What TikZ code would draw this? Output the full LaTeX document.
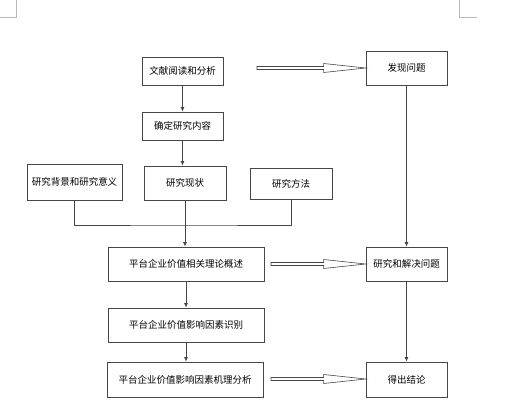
\documentclass[tikz,border=0pt]{standalone}
\usepackage{fontspec}
\setmainfont{Noto Sans CJK SC}
\usepackage{tikz}
\usetikzlibrary{arrows.meta,calc}
\definecolor{boxline}{RGB}{70,70,70}
\definecolor{markgray}{RGB}{185,185,185}

\tikzset{
  box/.style={draw=boxline, line width=0.7pt, fill=white, inner sep=0pt,
    font=\fontsize{9.5}{11}\selectfont},
  flow/.style={draw=boxline, line width=0.7pt, -{Latex[length=4.5pt,width=4pt]}},
  link/.style={draw=boxline, line width=0.7pt},
  hollow/.style={draw=boxline, line width=0.6pt, fill=white}
}

\newcommand{\hollowarrow}[2]{%
  \path[hollow] let \p1=(#1), \p2=(#2) in
    (\x1,\y1-1.5pt) -- (\x2-42pt,\y1-1.5pt) -- (\x2-42pt,\y1-4.5pt) -- (\x2,\y1)
    -- (\x2-42pt,\y1+4.5pt) -- (\x2-42pt,\y1+1.5pt) -- (\x1,\y1+1.5pt) -- cycle;}

\begin{document}
\begin{tikzpicture}[x=1pt, y=-1pt]
  \useasboundingbox (0,0) rectangle (512,406);

  % Page corner marks
  \draw[markgray, line width=0.6pt] (16,0) -- (16,17) -- (0,17);
  \draw[markgray, line width=0.6pt] (459,0) -- (459,17) -- (477,17);

  % Nodes
  \node[box, minimum width=81pt, minimum height=28pt] (lit) at (182.5,71) {文献阅读和分析};
  \node[box, minimum width=81pt, minimum height=34pt] (find) at (406.5,68) {发现问题};
  \node[box, minimum width=81pt, minimum height=28pt] (content) at (182.5,126) {确定研究内容};
  \node[box, minimum width=95pt, minimum height=36pt] (bg) at (74.5,182) {研究背景和研究意义};
  \node[box, minimum width=82pt, minimum height=34pt] (status) at (185,183) {研究现状};
  \node[box, minimum width=82pt, minimum height=31pt] (method) at (291,183.5) {研究方法};
  \node[box, minimum width=156pt, minimum height=34pt] (theory) at (186,264) {平台企业价值相关理论概述};
  \node[box, minimum width=81pt, minimum height=34pt] (solve) at (406.5,264) {研究和解决问题};
  \node[box, minimum width=156pt, minimum height=34pt] (ident) at (186,325) {平台企业价值影响因素识别};
  \node[box, minimum width=156pt, minimum height=35pt] (mech) at (185,379.5) {平台企业价值影响因素机理分析};
  \node[box, minimum width=81pt, minimum height=35pt] (concl) at (406.5,379.5) {得出结论};

  \coordinate (s1) at (257,68);
  \coordinate (s2) at (271,264);
  \coordinate (s3) at (271,379);
  \coordinate (join) at (185,225);

  % Edges
  \draw[flow] (lit) -- (content);
  \draw[flow] (content.south) -- (content.south |- status.north);
  \draw[link] (bg.south) |- (join) -| (method.south);
  \draw[flow] (status.south) -- (status.south |- theory.north);
  \draw[flow] (theory) -- (ident);
  \draw[flow] (ident) -- (ident.south |- mech.north);
  \draw[flow] (find) -- (solve);
  \draw[flow] (solve) -- (concl);

  % Hollow arrows
  \hollowarrow{s1}{find.west}
  \hollowarrow{s2}{solve.west}
  \hollowarrow{s3}{concl.west}
\end{tikzpicture}
\end{document}
